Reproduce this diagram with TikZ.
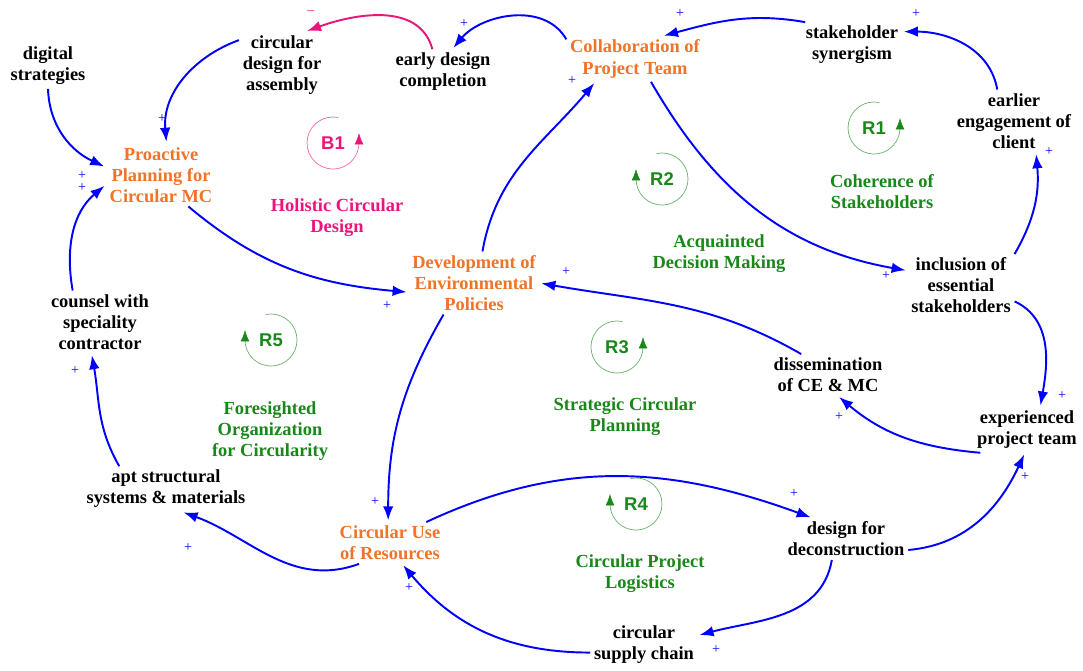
\documentclass[tikz,border=0pt]{standalone}
\usepackage{fontspec}
\setmainfont{Liberation Serif}
\setsansfont{Liberation Sans}
\usetikzlibrary{arrows.meta}
\definecolor{linkblue}{RGB}{0,0,255}
\definecolor{keyorange}{RGB}{240,115,40}
\definecolor{loopgreen}{RGB}{25,135,25}
\definecolor{balmag}{RGB}{235,20,125}
\begin{document}
\begin{tikzpicture}[x=0.02cm,y=-0.02cm,font=\fontsize{10.5}{12}\selectfont\bfseries,
  var/.style={align=center,inner sep=2pt},
  key/.style={var,text=keyorange},
  theme/.style={var,text=loopgreen},
  link/.style={draw=linkblue,line width=1.1pt,-{Latex[length=8pt,width=6pt]},shorten >=1pt},
  pol/.style={text=linkblue,font=\fontsize{8}{8}\selectfont,inner sep=0pt},
  loopname/.style={font=\sffamily\bfseries\fontsize{10.5}{10.5}\selectfont,text=loopgreen},
  pics/loopright/.style={code={\draw[x=1cm,y=1cm,#1!65!white,-{Latex[length=6.5pt,width=5pt,color=#1]}] (78:0.52) arc (78:360:0.52) -- ++(0,0.2);}},
  pics/loopleft/.style={code={\draw[x=1cm,y=1cm,#1!65!white,-{Latex[length=6.5pt,width=5pt,color=#1]}] (102:0.52) arc (102:-180:0.52) -- ++(0,0.2);}}]
\useasboundingbox (0,0) rectangle (1083,671);
% variables
\node[var] (dig) at (48,66) {digital\\strategies};
\node[var] (cda) at (282,65) {circular\\design for\\assembly};
\node[var] (edc) at (443,72) {early design\\completion};
\node[key] (col) at (635,59) {Collaboration of\\Project Team};
\node[var] (syn) at (852,45) {stakeholder\\synergism};
\node[var] (eng) at (1014,121) {earlier\\engagement of\\client};
\node[key] (pro) at (161,175) {Proactive\\Planning for\\Circular MC};
\node[key] (dev) at (474,283) {Development of\\Environmental\\Policies};
\node[var] (inc) at (961,285) {inclusion of\\essential\\stakeholders};
\node[var] (cou) at (100,322) {counsel with\\speciality\\contractor};
\node[var] (dis) at (828,375) {dissemination\\of CE \& MC};
\node[var] (exp) at (1027,430) {experienced\\project team};
\node[var] (apt) at (166,489) {apt structural\\systems \& materials};
\node[key] (cur) at (390,543) {Circular Use\\of Resources};
\node[var] (dfd) at (846,539) {design for\\deconstruction};
\node[var] (csc) at (644,645) {circular\\supply chain};
% loops
\pic (b1loop) at (333,143) {loopright=balmag};
\node[loopname,text=balmag] (b1) at (333,143) {B1};
\node[theme,text=balmag] (t1) at (337,218) {Holistic Circular\\Design};
\pic (r1loop) at (874,128) {loopright=loopgreen};
\node[loopname] (r1) at (874,128) {R1};
\node[theme] (tr1) at (882,192) {Coherence of\\Stakeholders};
\pic (r2loop) at (662,179) {loopleft=loopgreen};
\node[loopname] (r2) at (662,179) {R2};
\node[theme] (tr2) at (719,254) {Acquainted\\Decision Making};
\pic (r3loop) at (617,347) {loopright=loopgreen};
\node[loopname] (r3) at (617,347) {R3};
\node[theme] (tr3) at (625,417) {Strategic Circular\\Planning};
\pic (r4loop) at (636,504) {loopleft=loopgreen};
\node[loopname] (r4) at (636,504) {R4};
\node[theme] (tr4) at (640,574) {Circular Project\\Logistics};
\pic (r5loop) at (271,340) {loopleft=loopgreen};
\node[loopname] (r5) at (271,340) {R5};
\node[theme] (tr5) at (270,431) {Foresighted\\Organization\\for Circularity};
% links
\draw[link] (dig.south) to[out=-88,in=155] (pro.172);
\draw[link] (cda.150) to[out=200,in=95] (pro.80);
\draw[link,draw=balmag] (edc.115) to[out=105,in=20] (cda.55);
\draw[link] (col.164) to[out=120,in=50] (edc.68);
\draw[link] (syn.154) to[out=170,in=15] (col.40);
\draw[link] (eng.118) to[out=100,in=0] (syn.15);
\draw[link] (inc.30) to[out=60,in=-85] (eng.-55);
\draw[link] (col.-55) to[out=-60,in=170] (inc.165);
\draw[link] (inc.-17) to[out=-25,in=80] (exp.60);
\draw[link] (exp.-154) to[out=175,in=-40] (dis.-65);
\draw[link] (dis.142) to[out=150,in=-10] (dev.east);
\draw[link] (pro.-49) to[out=-40,in=175] (dev.188);
\draw[link] (dev.75) to[out=80,in=-130] (col.210);
\draw[link] (dev.-134) to[out=-120,in=90] (cur.95);
\draw[link] (cur.214) to[out=200,in=-20] (apt.-55);
\draw[link] (apt.154) to[out=120,in=-80] (cou.-105);
\draw[link] (cou.131) to[out=100,in=-140] (pro.190);
\draw[link] (cur.30) to[out=25,in=160] (dfd.148);
\draw[link] (dfd.-10) to[out=5,in=-115] (exp.-95);
\draw[link] (dfd.-124) to[out=-100,in=15] (csc.10);
\draw[link] (csc.188) to[out=180,in=-50] (cur.-60);
% polarities
\node[pol] (s1) at (82,176) {+};
\node[pol] (s2) at (82,188) {+};
\node[pol] (s3) at (162,119) {+};
\node[pol,text=balmag] (s4) at (311,13) {--};
\node[pol] (s5) at (464,24) {+};
\node[pol] (s6) at (680,14) {+};
\node[pol] (s7) at (916,14) {+};
\node[pol] (s8) at (1049,152) {+};
\node[pol] (s9) at (886,276) {+};
\node[pol] (s10) at (1062,396) {+};
\node[pol] (s11) at (839,417) {+};
\node[pol] (s12) at (566,272) {+};
\node[pol] (s13) at (387,306) {+};
\node[pol] (s14) at (572,81) {+};
\node[pol] (s15) at (375,502) {+};
\node[pol] (s16) at (188,548) {+};
\node[pol] (s17) at (75,371) {+};
\node[pol] (s18) at (1025,477) {+};
\node[pol] (s19) at (794,494) {+};
\node[pol] (s20) at (716,650) {+};
\node[pol] (s21) at (409,588) {+};
\end{tikzpicture}
\end{document}
